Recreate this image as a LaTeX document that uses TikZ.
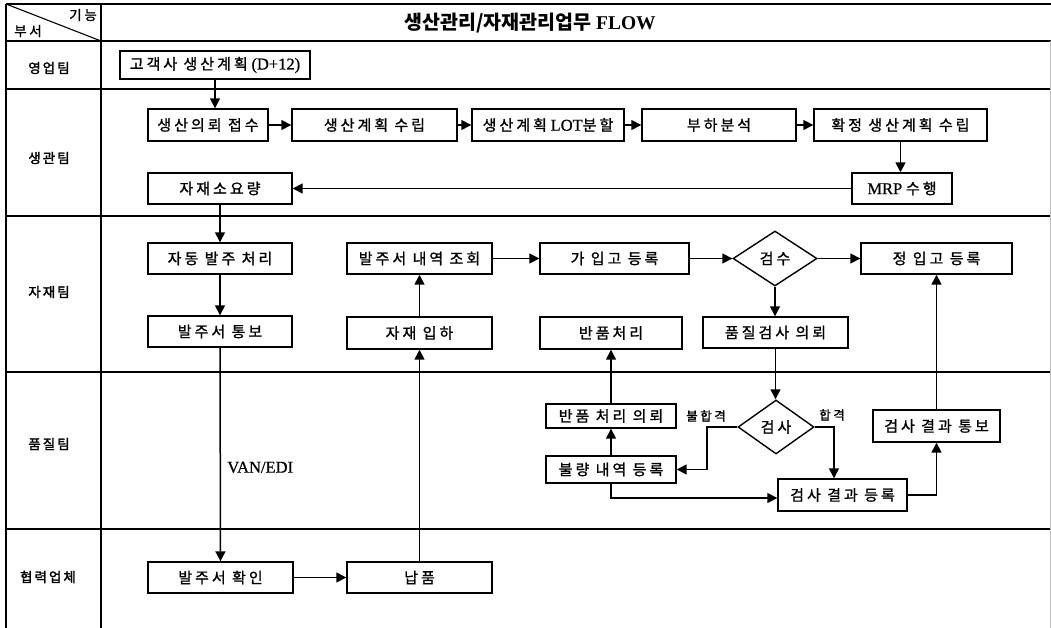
\documentclass[tikz,border=0pt]{standalone}
\usepackage{fontspec}
\setmainfont{Liberation Serif}
\newfontfamily\kr[LetterSpace=20,FakeBold=1.2]{Noto Sans CJK KR}
\newfontfamily\krl[LetterSpace=15,FakeBold=2]{Noto Sans CJK KR}
\newfontfamily\krt{Noto Sans CJK KR}
\newfontfamily\lt[FakeBold=0.8]{Liberation Serif}
\usetikzlibrary{arrows.meta,shapes.geometric,calc}
\newcommand\bxfont{\fontsize{15}{17}\selectfont}
\newcommand\lbfont{\fontsize{13.5}{15}\selectfont\krl}
\newcommand\smfont{\fontsize{12.5}{14}\selectfont}
\newcommand\ltx[1]{{\lt\fontsize{16.5}{18}\selectfont #1}}
\begin{document}
\begin{tikzpicture}[x=1pt,y=-1pt,
  frame/.style={line width=1.5pt},
  box/.style={draw,line width=1.4pt,inner sep=0pt,font=\bxfont},
  dia/.style={draw,diamond,aspect=1.5,line width=1.4pt,inner sep=0pt,font=\bxfont},
  arr/.style={line width=1.5pt,-{Triangle[length=10pt,width=10pt]}},
  lane/.style={font=\lbfont}]
\useasboundingbox (0,0) rectangle (1051,628);
% frame
\foreach \yy in {4,41,89,216,372,529} \draw[frame] (6,\yy) -- (1051,\yy);
\draw[frame] (6,4) -- (6,628);
\draw[frame] (101,4) -- (101,628);
\draw[line width=0.4pt,gray!50] (1050,41) -- (1050,628);
\draw[line width=1.1pt] (6,4) -- (101,41);
\node[font=\fontsize{13.5}{15}\selectfont] (hfunc) at (83,15) {\kr 기능};
\node[font=\fontsize{13.5}{15}\selectfont] (hdept) at (28,31) {\kr 부서};
\node[font=\fontsize{19.5}{21}\selectfont\bfseries] (title) at (530,23) {{\krt 생산관리/자재관리업무} FLOW};
% lane labels
\node[lane] (l1) at (49,68) {영업팀};
\node[lane] (l2) at (49,158) {생관팀};
\node[lane] (l3) at (49,292) {자재팀};
\node[lane] (l4) at (49,444) {품질팀};
\node[lane] (l5) at (48,577) {협력업체};
% boxes
\node[box,minimum width=190,minimum height=28] (cust) at (215,65) {{\kr 고객사 생산계획} \ltx{(D+12)}};
\node[box,minimum width=120,minimum height=32] (req) at (208,125) {\kr 생산의뢰 접수};
\node[box,minimum width=165,minimum height=32] (plan) at (374.5,125) {\kr 생산계획 수립};
\node[box,minimum width=152,minimum height=32] (lot) at (548,125) {{\kr 생산계획} \ltx{LOT}{\kr 분할}};
\node[box,minimum width=154,minimum height=32] (load) at (719,125) {\kr 부하분석};
\node[box,minimum width=173,minimum height=32] (conf) at (900.5,125) {\kr 확정 생산계획 수립};
\node[box,minimum width=100,minimum height=31] (mrp) at (902,188.5) {\ltx{MRP} {\kr 수행}};
\node[box,minimum width=144,minimum height=31] (matq) at (220,188.5) {\kr 자재소요량};
\node[box,minimum width=144,minimum height=31] (auto) at (220,258.5) {\kr 자동 발주 처리};
\node[box,minimum width=144,minimum height=31] (notify) at (220,331.5) {\kr 발주서 통보};
\node[box,minimum width=145,minimum height=31] (inq) at (419.5,258.5) {\kr 발주서 내역 조회};
\node[box,minimum width=145,minimum height=32] (arrive) at (419.5,333) {\kr 자재 입하};
\node[box,minimum width=149,minimum height=31] (temp) at (614.5,258.5) {\kr 가 입고 등록};
\node[box,minimum width=142,minimum height=32] (ret) at (611,333) {\kr 반품처리};
\node[dia,minimum width=84,minimum height=55] (insp1) at (775,258.5) {\kr 검수};
\node[box,minimum width=151,minimum height=31] (final) at (936.5,258.5) {\kr 정 입고 등록};
\node[box,minimum width=145,minimum height=31] (qreq) at (775.5,332.5) {\kr 품질검사 의뢰};
\node[dia,minimum width=76,minimum height=54] (insp2) at (776,427) {\kr 검사};
\node[box,minimum width=130,minimum height=24] (retreq) at (611,416) {\kr 반품 처리 의뢰};
\node[box,minimum width=130,minimum height=27] (defect) at (611,469.5) {\kr 불량 내역 등록};
\node[box,minimum width=129,minimum height=32] (resreg) at (842.5,495) {\kr 검사 결과 등록};
\node[box,minimum width=127,minimum height=32] (resnot) at (936.5,426) {\kr 검사 결과 통보};
\node[box,minimum width=145,minimum height=31] (confirm) at (220.5,577.5) {\kr 발주서 확인};
\node[box,minimum width=145,minimum height=31] (deliver) at (419.5,577.5) {\kr 납품};
% labels
\node[font=\smfont] (fail) at (706,416) {\kr 불합격};
\node[font=\smfont] (pass) at (832,415) {\kr 합격};
% connectors
\draw[arr] (cust.south) -- (cust.south |- req.north);
\draw[arr] (req) -- (plan);
\draw[arr] (plan) -- (lot);
\draw[arr] (lot) -- (load);
\draw[arr] (load) -- (conf);
\draw[arr] (conf.south) -- (conf.south |- mrp.north);
\draw[arr] (mrp) -- (matq);
\draw[arr] (matq) -- (auto);
\draw[arr] (auto) -- (notify);
\draw[arr] (notify) -- node[right,pos=0.56,xshift=3pt] (van) {\ltx{VAN/EDI}} (confirm);
\draw[arr] (confirm) -- (deliver);
\draw[arr] (deliver) -- (arrive);
\draw[arr] (arrive) -- (inq);
\draw[arr] (inq) -- (temp);
\draw[arr] (temp.east) -- (insp1.west);
\draw[arr] (insp1.east) -- (insp1.east -| final.west);
\draw[arr] (insp1.south) -- (insp1.south |- qreq.north);
\draw[arr] (qreq.south) -- (qreq.south |- insp2.north);
\coordinate (j1) at (707,427);
\draw[arr] (insp2.west) -- (j1) |- (defect.east);
\coordinate (j2) at (834,427);
\draw[arr] (insp2.east) -- (j2) -- (j2 |- resreg.north);
\draw[arr] (defect.south) |- ([yshift=-3pt]resreg.west);
\draw[arr] (defect) -- (retreq);
\draw[arr] (retreq) -- (ret);
\draw[arr] (resreg.east) -| (resnot.south);
\draw[arr] (resnot) -- (final);
\end{tikzpicture}
\end{document}
